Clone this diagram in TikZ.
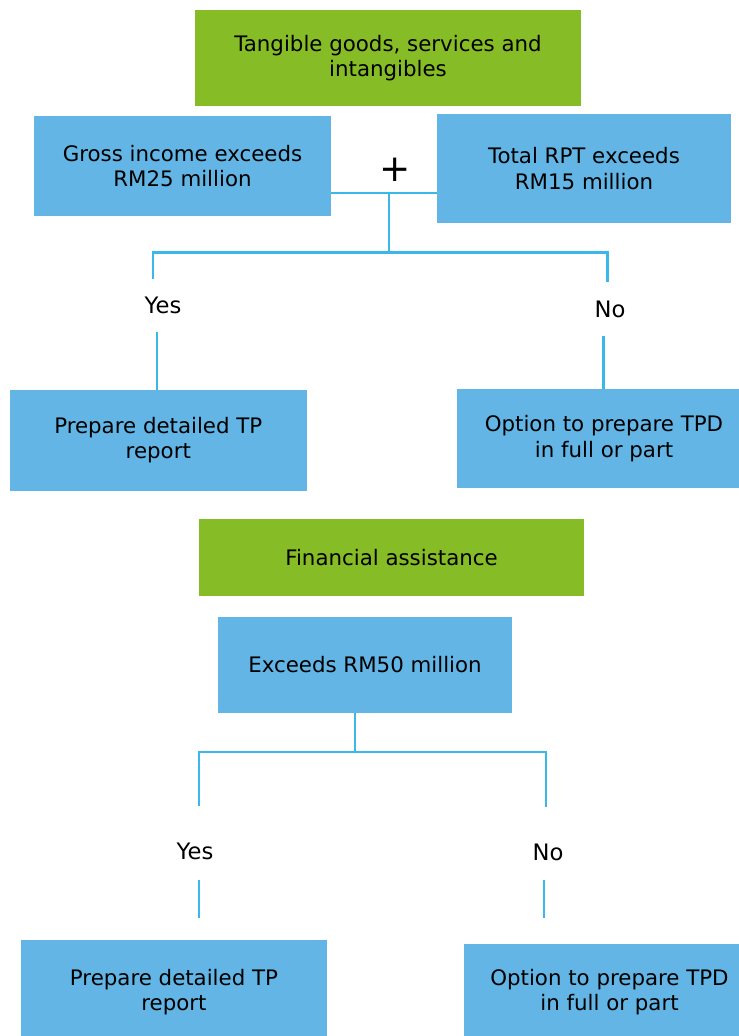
\documentclass[tikz,border=0pt]{standalone}
\usepackage{fontspec}
\setmainfont{DejaVu Sans}

\definecolor{tpgreen}{RGB}{134,188,37}
\definecolor{tpblue}{RGB}{98,181,229}
\definecolor{tpline}{RGB}{59,184,234}

\tikzset{
  greenbox/.style={fill=tpgreen, inner sep=0pt, align=center,
                   font=\fontsize{16}{19}\selectfont},
  bluebox/.style={fill=tpblue, inner sep=0pt, align=center,
                  font=\fontsize{16}{19}\selectfont},
  answer/.style={inner sep=0pt, font=\fontsize{17}{20}\selectfont},
  link/.style={draw=tpline, line width=1.6pt}
}

\begin{document}
\begin{tikzpicture}[x=0.75pt,y=-0.75pt]

\useasboundingbox (0,0) rectangle (739,1036);

%% Tangible goods part
\node[greenbox, minimum width=289.5pt, minimum height=72pt] (tang) at (388,58)
      {Tangible goods, services and\\intangibles};

\node[bluebox, minimum width=222.75pt, minimum height=75pt] (gross) at (182.5,166)
      {Gross income exceeds\\RM25 million};
\node[bluebox, minimum width=220.5pt, minimum height=81.75pt] (rpt) at (584,168.5)
      {Total RPT exceeds\\RM15 million};

\node[inner sep=0pt, font=\fontsize{28}{28}\selectfont] (plus) at (395,169.5) {+};

\node[answer] (yesA) at (163,305) {Yes};
\node[answer] (noA) at (610,309) {No};

\node[bluebox, minimum width=222.75pt, minimum height=75.75pt] (prepA) at (158.3,440.3)
      {Prepare detailed TP\\report};
\node[bluebox, minimum width=220.5pt, minimum height=74.25pt] (optA) at (604,438.5)
      {Option to prepare TPD\\in full or part};

\coordinate (joinT) at (389,192.7);
\coordinate (splitT) at (389,252.5);
\coordinate (yesAup) at (153,279);
\coordinate (noAup) at (607.5,282);
\coordinate (yesAlow) at (157,332);
\coordinate (noAlow) at (603.5,336);

\draw[link] (gross.east |- joinT) -- (rpt.west |- joinT);
\draw[link] (joinT) -- (splitT);
\draw[link] (yesAup) |- (splitT) -| (noAup);
\draw[link] (yesAlow) -- (yesAlow |- prepA.north);
\draw[link] (noAlow) -- (noAlow |- optA.north);

%% Financial assistance part
\node[greenbox, minimum width=288.75pt, minimum height=57.75pt] (fin) at (391.5,557.3)
      {Financial assistance};

\node[bluebox, minimum width=220.5pt, minimum height=72pt] (rm50) at (365,665)
      {Exceeds RM50 million};

\node[answer] (yesB) at (195,851) {Yes};
\node[answer] (noB) at (548,852) {No};

\node[bluebox, minimum width=229.5pt, minimum height=78pt] (prepB) at (174,992)
      {Prepare detailed TP\\report};
\node[bluebox, minimum width=218.25pt, minimum height=72pt] (optB) at (609.5,992)
      {Option to prepare TPD\\in full or part};

\coordinate (splitB) at (355,751.7);
\coordinate (yesBup) at (199,806);
\coordinate (noBup) at (545.7,806.5);
\coordinate (yesBlow) at (199,880);
\coordinate (yesBend) at (199,918);
\coordinate (noBlow) at (544,880);
\coordinate (noBend) at (544,917.5);

\draw[link] (splitB |- rm50.south) -- (splitB);
\draw[link] (yesBup) |- (splitB) -| (noBup);
\draw[link] (yesBlow) -- (yesBend);
\draw[link] (noBlow) -- (noBend);

\end{tikzpicture}
\end{document}
